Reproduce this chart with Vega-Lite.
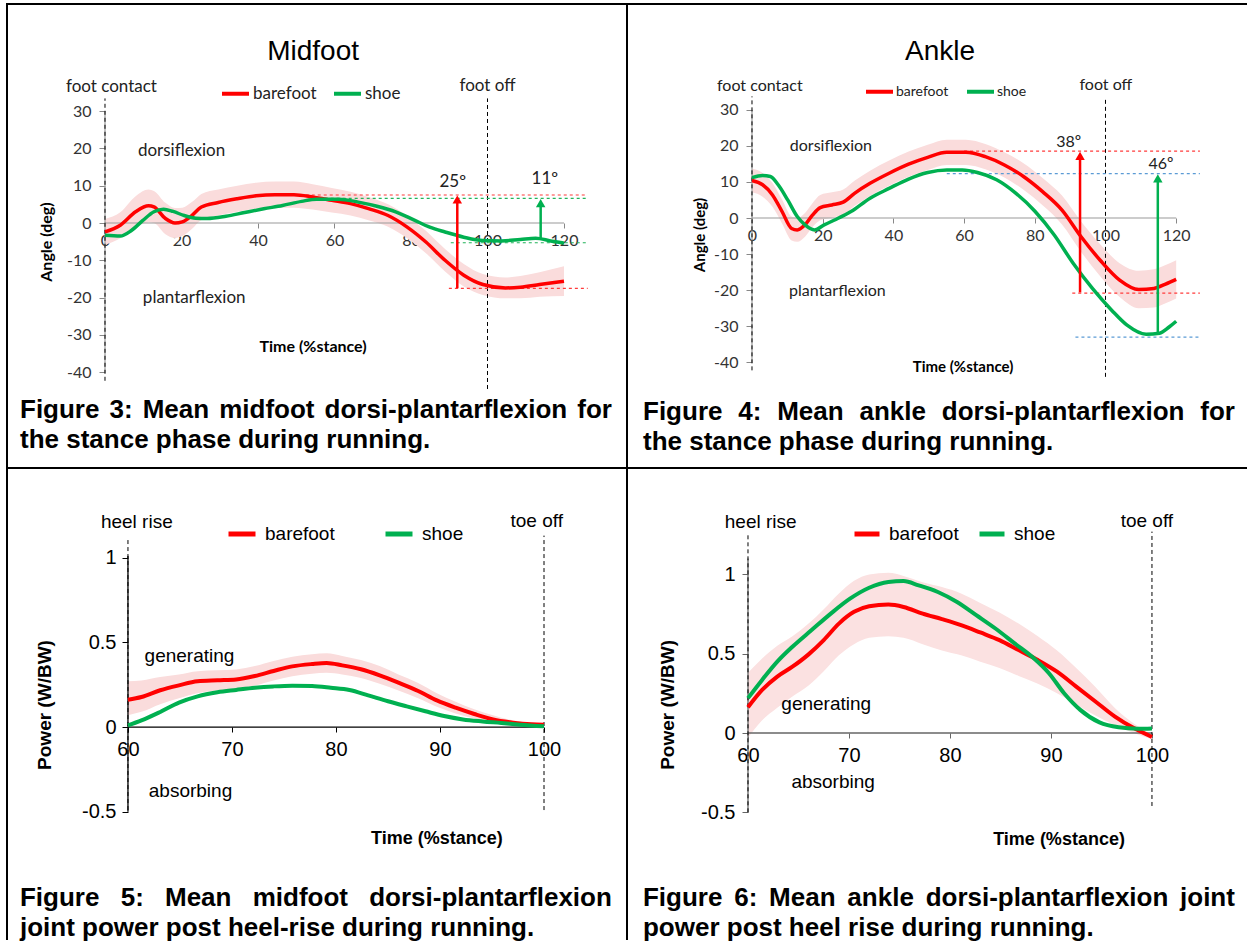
{
"$schema": "https://vega.github.io/schema/vega-lite/v6.json",
"background": "white",
"padding": {"left": 6, "top": 3, "right": 0, "bottom": 0},
"bounds": "flush",
"spacing": 0,
"columns": 2,
"config": {"view": {"stroke": "black", "strokeWidth": 2}},
"resolve": {"scale": {"color": "independent"}, "legend": {"color": "independent"}},
"datasets": {
 "tl_lines": [
  {"s":"barefoot","t":0,"v":-2.4},{"s":"barefoot","t":4,"v":-0.6},{"s":"barefoot","t":8,"v":3},{"s":"barefoot","t":11.4,"v":4.6},{"s":"barefoot","t":12.8,"v":4.3},{"s":"barefoot","t":15.8,"v":1.2},{"s":"barefoot","t":18.3,"v":0},{"s":"barefoot","t":20.2,"v":0.3},{"s":"barefoot","t":22.7,"v":2},{"s":"barefoot","t":25.2,"v":4.3},{"s":"barefoot","t":29.6,"v":5.5},{"s":"barefoot","t":34.6,"v":6.5},{"s":"barefoot","t":39.5,"v":7.3},{"s":"barefoot","t":44.4,"v":7.6},{"s":"barefoot","t":49.4,"v":7.6},{"s":"barefoot","t":54.3,"v":7},{"s":"barefoot","t":59.3,"v":6.1},{"s":"barefoot","t":64.2,"v":5.2},{"s":"barefoot","t":69.1,"v":3.8},{"s":"barefoot","t":74,"v":2},{"s":"barefoot","t":79,"v":-1.1},{"s":"barefoot","t":83.9,"v":-5.1},{"s":"barefoot","t":88.9,"v":-10},{"s":"barefoot","t":93.8,"v":-14},{"s":"barefoot","t":98.8,"v":-16.5},{"s":"barefoot","t":104.7,"v":-17.4},{"s":"barefoot","t":108.6,"v":-17.2},{"s":"barefoot","t":113.6,"v":-16.5},{"s":"barefoot","t":120,"v":-15.6},
  {"s":"shoe","t":0,"v":-3.3},{"s":"shoe","t":4,"v":-3.5},{"s":"shoe","t":6.9,"v":-2},{"s":"shoe","t":9.9,"v":0.7},{"s":"shoe","t":12.8,"v":3},{"s":"shoe","t":15.3,"v":3.7},{"s":"shoe","t":17.8,"v":3.1},{"s":"shoe","t":20.7,"v":2},{"s":"shoe","t":23.7,"v":1.3},{"s":"shoe","t":26.7,"v":1.2},{"s":"shoe","t":31.6,"v":1.8},{"s":"shoe","t":36.5,"v":2.8},{"s":"shoe","t":41.5,"v":3.8},{"s":"shoe","t":46.4,"v":4.7},{"s":"shoe","t":51.4,"v":5.8},{"s":"shoe","t":55.3,"v":6.4},{"s":"shoe","t":61.2,"v":6.4},{"s":"shoe","t":66.2,"v":5.6},{"s":"shoe","t":71.1,"v":4.5},{"s":"shoe","t":76,"v":3},{"s":"shoe","t":81,"v":0.7},{"s":"shoe","t":84.9,"v":-1.1},{"s":"shoe","t":88.9,"v":-2.4},{"s":"shoe","t":93.8,"v":-3.8},{"s":"shoe","t":98.8,"v":-4.7},{"s":"shoe","t":103.7,"v":-4.8},{"s":"shoe","t":108.6,"v":-4.4},{"s":"shoe","t":112.6,"v":-4.1},{"s":"shoe","t":116.5,"v":-4.8},{"s":"shoe","t":120,"v":-5.4}
 ],
 "tl_band": [
  {"t":0,"v":-5.9,"v2":1.1},{"t":4,"v":-4.1,"v2":2.9},{"t":8,"v":-1.2,"v2":7.2},{"t":11.4,"v":0.2,"v2":9},{"t":12.8,"v":0,"v2":8.6},{"t":15.8,"v":-3,"v2":5.4},{"t":18.3,"v":-4,"v2":4},{"t":20.2,"v":-3.5,"v2":4.1},{"t":22.7,"v":-1.6,"v2":5.6},{"t":25.2,"v":0.8,"v2":7.8},{"t":29.6,"v":2,"v2":9},{"t":34.6,"v":3,"v2":10},{"t":39.5,"v":3.8,"v2":10.8},{"t":44.4,"v":4.1,"v2":11.1},{"t":49.4,"v":4.1,"v2":11.1},{"t":54.3,"v":3.6,"v2":10.4},{"t":59.3,"v":2.8,"v2":9.4},{"t":64.2,"v":2,"v2":8.4},{"t":69.1,"v":0.7,"v2":6.9},{"t":74,"v":-1,"v2":5},{"t":79,"v":-4.1,"v2":1.9},{"t":83.9,"v":-8.1,"v2":-2.1},{"t":88.9,"v":-13,"v2":-7},{"t":93.8,"v":-17,"v2":-11},{"t":98.8,"v":-19.3,"v2":-13.7},{"t":104.7,"v":-20.2,"v2":-14.6},{"t":108.6,"v":-20.2,"v2":-14.2},{"t":113.6,"v":-19.8,"v2":-13.2},{"t":120,"v":-19.6,"v2":-11.6}
 ],
 "tl_axis": [{"t":0,"v":0,"t2":120,"v2":0},{"t":0,"v":-40,"t2":0,"v2":30}],
 "tl_events": [{"t":0,"v":-42.3,"t2":0,"v2":33.4},{"t":100,"v":-44.5,"t2":100,"v2":33.4}],
 "tl_refs": [{"s":"barefoot","t":41.5,"v":7.5,"t2":126.2,"v2":7.5},{"s":"barefoot","t":89.9,"v":-17.5,"t2":126.2,"v2":-17.5},{"s":"shoe","t":54.3,"v":6.6,"t2":126.2,"v2":6.6},{"s":"shoe","t":90.4,"v":-5.3,"t2":126.2,"v2":-5.3}],
 "tl_arrows": [{"s":"barefoot","t":92.1,"v":6.3,"v2":-17.5},{"s":"shoe","t":113.9,"v":5.3,"v2":-4}],
 "tl_text": [
  {"role":"title","t":54.4,"v":45.8,"label":"Midfoot"},
  {"role":"plain","t":-10.2,"v":36.5,"label":"foot contact"},
  {"role":"plain","t":8.6,"v":19.3,"label":"dorsiflexion"},
  {"role":"plain","t":9.9,"v":-20.1,"label":"plantarflexion"},
  {"role":"center","t":100,"v":36.6,"label":"foot off"},
  {"role":"center","t":90.9,"v":11,"label":"25º"},
  {"role":"center","t":115,"v":11.9,"label":"11º"},
  {"role":"bold","t":54.4,"v":-33.2,"label":"Time (%stance)"},
  {"role":"ylab","t":-15.2,"v":-5.1,"label":"Angle (deg)"},
  {"role":"caption","t":-22.22,"v":-50.1,"label":"Figure"},
  {"role":"caption","t":1.18,"v":-50.1,"label":"3:"},
  {"role":"caption","t":9.86,"v":-50.1,"label":"Mean"},
  {"role":"caption","t":29.86,"v":-50.1,"label":"midfoot"},
  {"role":"caption","t":57.39,"v":-50.1,"label":"dorsi-plantarflexion"},
  {"role":"caption","t":123.48,"v":-50.1,"label":"for"},
  {"role":"caption","t":-22.22,"v":-58.2,"label":"the stance phase during running."}
 ],
 "tr_lines": [
  {"s":"barefoot","t":0,"v":10.4},{"s":"barefoot","t":3,"v":9.2},{"s":"barefoot","t":5.8,"v":6.4},{"s":"barefoot","t":8.5,"v":1.8},{"s":"barefoot","t":11.2,"v":-2.9},{"s":"barefoot","t":12.8,"v":-3.3},{"s":"barefoot","t":15,"v":-1.9},{"s":"barefoot","t":17.1,"v":0.8},{"s":"barefoot","t":19.3,"v":2.9},{"s":"barefoot","t":22.6,"v":3.6},{"s":"barefoot","t":25.8,"v":4.4},{"s":"barefoot","t":29.1,"v":6.9},{"s":"barefoot","t":33.4,"v":9.6},{"s":"barefoot","t":38.8,"v":12.4},{"s":"barefoot","t":44.3,"v":14.9},{"s":"barefoot","t":49.7,"v":16.8},{"s":"barefoot","t":55.1,"v":18.2},{"s":"barefoot","t":60.5,"v":18.2},{"s":"barefoot","t":66,"v":17},{"s":"barefoot","t":71.4,"v":14.7},{"s":"barefoot","t":76.8,"v":11.5},{"s":"barefoot","t":82.2,"v":7.3},{"s":"barefoot","t":87.7,"v":2.2},{"s":"barefoot","t":93.1,"v":-5.2},{"s":"barefoot","t":98.5,"v":-11.7},{"s":"barefoot","t":104,"v":-17.2},{"s":"barefoot","t":109.4,"v":-19.8},{"s":"barefoot","t":113.7,"v":-19.5},{"s":"barefoot","t":117,"v":-18.3},{"s":"barefoot","t":120,"v":-17},
  {"s":"shoe","t":0,"v":11.2},{"s":"shoe","t":3,"v":11.8},{"s":"shoe","t":5.2,"v":11.5},{"s":"shoe","t":7.4,"v":9.2},{"s":"shoe","t":10.1,"v":5},{"s":"shoe","t":12.8,"v":0.4},{"s":"shoe","t":15,"v":-1.9},{"s":"shoe","t":17.7,"v":-3.3},{"s":"shoe","t":20.4,"v":-1.9},{"s":"shoe","t":23.7,"v":-0.4},{"s":"shoe","t":28,"v":1.8},{"s":"shoe","t":33.4,"v":5.5},{"s":"shoe","t":38.8,"v":8.2},{"s":"shoe","t":44.3,"v":10.8},{"s":"shoe","t":49.7,"v":12.6},{"s":"shoe","t":55.1,"v":13.3},{"s":"shoe","t":59.5,"v":13.3},{"s":"shoe","t":63.8,"v":12.6},{"s":"shoe","t":69.2,"v":10.6},{"s":"shoe","t":74.6,"v":6.9},{"s":"shoe","t":80.1,"v":1.8},{"s":"shoe","t":85.5,"v":-4.7},{"s":"shoe","t":90.9,"v":-12.6},{"s":"shoe","t":96.3,"v":-19.5},{"s":"shoe","t":101.8,"v":-25.6},{"s":"shoe","t":106.1,"v":-29.7},{"s":"shoe","t":111.5,"v":-32.2},{"s":"shoe","t":115.3,"v":-31.9},{"s":"shoe","t":118,"v":-30.2},{"s":"shoe","t":120,"v":-28.6}
 ],
 "tr_band": [
  {"t":0,"v":7.1,"v2":13.7},{"t":3,"v":5.9,"v2":12.5},{"t":5.8,"v":3.1,"v2":9.7},{"t":8.5,"v":-1.5,"v2":5.1},{"t":11.2,"v":-6.2,"v2":0.4},{"t":12.8,"v":-6.6,"v2":0},{"t":15,"v":-5.2,"v2":1.4},{"t":17.1,"v":-2.5,"v2":4.1},{"t":19.3,"v":-0.6,"v2":6.4},{"t":22.6,"v":0.1,"v2":7.1},{"t":25.8,"v":0.9,"v2":7.9},{"t":29.1,"v":3.4,"v2":10.4},{"t":33.4,"v":6.1,"v2":13.1},{"t":38.8,"v":8.9,"v2":15.9},{"t":44.3,"v":11.4,"v2":18.4},{"t":49.7,"v":13.3,"v2":20.3},{"t":55.1,"v":14.7,"v2":21.7},{"t":60.5,"v":14.7,"v2":21.7},{"t":66,"v":13.5,"v2":20.5},{"t":71.4,"v":11.2,"v2":18.2},{"t":76.8,"v":7.8,"v2":15.2},{"t":82.2,"v":3.5,"v2":11.1},{"t":87.7,"v":-1.8,"v2":6.2},{"t":93.1,"v":-9.4,"v2":-1},{"t":98.5,"v":-16.1,"v2":-7.3},{"t":104,"v":-21.9,"v2":-12.5},{"t":109.4,"v":-25,"v2":-14.6},{"t":113.7,"v":-24.8,"v2":-14.2},{"t":117,"v":-23.6,"v2":-13},{"t":120,"v":-22.3,"v2":-11.7}
 ],
 "tr_axis": [{"t":0,"v":0,"t2":120,"v2":0},{"t":0,"v":-40,"t2":0,"v2":30}],
 "tr_events": [{"t":0,"v":-42.2,"t2":0,"v2":33.7},{"t":100,"v":-44,"t2":100,"v2":33.2}],
 "tr_refs": [{"s":"barefoot","t":60,"v":18.5,"t2":126.7,"v2":18.5},{"s":"barefoot","t":90.6,"v":-20.8,"t2":126.7,"v2":-20.8},{"s":"shoe","t":55.1,"v":12.3,"t2":126.7,"v2":12.3},{"s":"shoe","t":91.5,"v":-33,"t2":126.7,"v2":-33}],
 "tr_arrows": [{"s":"barefoot","t":92.8,"v":17.2,"v2":-20.6},{"s":"shoe","t":114.8,"v":11,"v2":-32}],
 "tr_text": [
  {"role":"title","t":53.2,"v":46,"label":"Ankle"},
  {"role":"plain","t":-9.9,"v":36.6,"label":"foot contact"},
  {"role":"plain","t":10.7,"v":19.9,"label":"dorsiflexion"},
  {"role":"plain","t":10.5,"v":-20.2,"label":"plantarflexion"},
  {"role":"center","t":100.1,"v":36.8,"label":"foot off"},
  {"role":"center","t":89.6,"v":21,"label":"38º"},
  {"role":"center","t":115.7,"v":14.9,"label":"46º"},
  {"role":"bold","t":59.7,"v":-41.3,"label":"Time (%stance)"},
  {"role":"ylab","t":-14.7,"v":-4.7,"label":"Angle (deg)"},
  {"role":"caption","t":-30.83,"v":-53.7,"label":"Figure"},
  {"role":"caption","t":-3.88,"v":-53.7,"label":"4:"},
  {"role":"caption","t":7.13,"v":-53.7,"label":"Mean"},
  {"role":"caption","t":30.41,"v":-53.7,"label":"ankle"},
  {"role":"caption","t":53.69,"v":-53.7,"label":"dorsi-plantarflexion"},
  {"role":"caption","t":126.82,"v":-53.7,"label":"for"},
  {"role":"caption","t":-30.83,"v":-62,"label":"the stance phase during running."}
 ],
 "bl_lines": [
  {"s":"barefoot","t":60,"v":0.161},{"s":"barefoot","t":61.3,"v":0.177},{"s":"barefoot","t":63.1,"v":0.217},{"s":"barefoot","t":64.9,"v":0.246},{"s":"barefoot","t":66.7,"v":0.27},{"s":"barefoot","t":68.6,"v":0.276},{"s":"barefoot","t":70.4,"v":0.281},{"s":"barefoot","t":72.2,"v":0.301},{"s":"barefoot","t":74,"v":0.331},{"s":"barefoot","t":75.8,"v":0.358},{"s":"barefoot","t":77.7,"v":0.372},{"s":"barefoot","t":79.1,"v":0.378},{"s":"barefoot","t":80.6,"v":0.364},{"s":"barefoot","t":82.4,"v":0.341},{"s":"barefoot","t":84.2,"v":0.305},{"s":"barefoot","t":86,"v":0.262},{"s":"barefoot","t":87.9,"v":0.213},{"s":"barefoot","t":89.7,"v":0.157},{"s":"barefoot","t":91.5,"v":0.114},{"s":"barefoot","t":93.3,"v":0.077},{"s":"barefoot","t":95.1,"v":0.045},{"s":"barefoot","t":97,"v":0.026},{"s":"barefoot","t":98.8,"v":0.016},{"s":"barefoot","t":100,"v":0.014},
  {"s":"shoe","t":60,"v":0.01},{"s":"shoe","t":61.3,"v":0.039},{"s":"shoe","t":63.1,"v":0.089},{"s":"shoe","t":64.9,"v":0.144},{"s":"shoe","t":66.7,"v":0.181},{"s":"shoe","t":68.6,"v":0.205},{"s":"shoe","t":70.4,"v":0.219},{"s":"shoe","t":72.2,"v":0.232},{"s":"shoe","t":74,"v":0.24},{"s":"shoe","t":75.8,"v":0.244},{"s":"shoe","t":77.7,"v":0.242},{"s":"shoe","t":79.5,"v":0.232},{"s":"shoe","t":81.3,"v":0.219},{"s":"shoe","t":83.1,"v":0.187},{"s":"shoe","t":85,"v":0.152},{"s":"shoe","t":86.8,"v":0.122},{"s":"shoe","t":88.6,"v":0.093},{"s":"shoe","t":90.4,"v":0.065},{"s":"shoe","t":92.2,"v":0.045},{"s":"shoe","t":94.1,"v":0.033},{"s":"shoe","t":95.9,"v":0.024},{"s":"shoe","t":97.7,"v":0.014},{"s":"shoe","t":100,"v":0.004}
 ],
 "bl_band": [
  {"t":60,"v":0.07,"v2":0.27},{"t":61.3,"v":0.09,"v2":0.275},{"t":63.1,"v":0.135,"v2":0.295},{"t":64.9,"v":0.17,"v2":0.31},{"t":66.7,"v":0.2,"v2":0.33},{"t":68.6,"v":0.215,"v2":0.335},{"t":70.4,"v":0.225,"v2":0.34},{"t":72.2,"v":0.245,"v2":0.36},{"t":74,"v":0.275,"v2":0.39},{"t":75.8,"v":0.3,"v2":0.415},{"t":77.7,"v":0.315,"v2":0.43},{"t":79.1,"v":0.32,"v2":0.435},{"t":80.6,"v":0.31,"v2":0.42},{"t":82.4,"v":0.29,"v2":0.395},{"t":84.2,"v":0.255,"v2":0.36},{"t":86,"v":0.215,"v2":0.31},{"t":87.9,"v":0.17,"v2":0.26},{"t":89.7,"v":0.12,"v2":0.2},{"t":91.5,"v":0.08,"v2":0.15},{"t":93.3,"v":0.05,"v2":0.105},{"t":95.1,"v":0.025,"v2":0.07},{"t":97,"v":0.012,"v2":0.04},{"t":98.8,"v":0.008,"v2":0.024},{"t":100,"v":0.01,"v2":0.018}
 ],
 "bl_axis": [{"t":60,"v":0,"t2":100,"v2":0},{"t":60,"v":-0.5,"t2":60,"v2":1.01}],
 "bl_events": [{"t":60,"v":-0.49,"t2":60,"v2":1.12},{"t":100,"v":-0.49,"t2":100,"v2":1.13}],
 "bl_text": [
  {"role":"plain","t":57.4,"v":1.21,"label":"heel rise"},
  {"role":"plain","t":61.6,"v":0.419,"label":"generating"},
  {"role":"plain","t":62,"v":-0.378,"label":"absorbing"},
  {"role":"center","t":99.3,"v":1.216,"label":"toe off"},
  {"role":"bold","t":89.7,"v":-0.661,"label":"Time (%stance)"},
  {"role":"ylab","t":52,"v":0.13,"label":"Power (W/BW)"},
  {"role":"caption","t":49.615,"v":-1.009,"label":"Figure"},
  {"role":"caption","t":59.3,"v":-1.009,"label":"5:"},
  {"role":"caption","t":63.56,"v":-1.009,"label":"Mean"},
  {"role":"caption","t":71.99,"v":-1.009,"label":"midfoot"},
  {"role":"caption","t":83.19,"v":-1.009,"label":"dorsi-plantarflexion"},
  {"role":"caption","t":49.615,"v":-1.187,"label":"joint power post heel-rise during running."}
 ],
 "br_lines": [
  {"s":"barefoot","t":60,"v":0.163},{"s":"barefoot","t":61.4,"v":0.272},{"s":"barefoot","t":62.9,"v":0.356},{"s":"barefoot","t":64.4,"v":0.418},{"s":"barefoot","t":66,"v":0.496},{"s":"barefoot","t":67.5,"v":0.586},{"s":"barefoot","t":69,"v":0.69},{"s":"barefoot","t":70.5,"v":0.764},{"s":"barefoot","t":72,"v":0.799},{"s":"barefoot","t":73.9,"v":0.81},{"s":"barefoot","t":75.4,"v":0.795},{"s":"barefoot","t":77.3,"v":0.753},{"s":"barefoot","t":79.2,"v":0.718},{"s":"barefoot","t":81.1,"v":0.68},{"s":"barefoot","t":83,"v":0.634},{"s":"barefoot","t":84.9,"v":0.586},{"s":"barefoot","t":86.8,"v":0.523},{"s":"barefoot","t":88.7,"v":0.46},{"s":"barefoot","t":90.6,"v":0.387},{"s":"barefoot","t":92.5,"v":0.293},{"s":"barefoot","t":94.4,"v":0.199},{"s":"barefoot","t":96.3,"v":0.105},{"s":"barefoot","t":98.2,"v":0.031},{"s":"barefoot","t":100,"v":-0.025},
  {"s":"shoe","t":60,"v":0.22},{"s":"shoe","t":61.4,"v":0.335},{"s":"shoe","t":62.9,"v":0.45},{"s":"shoe","t":64.4,"v":0.544},{"s":"shoe","t":66.3,"v":0.649},{"s":"shoe","t":68.2,"v":0.753},{"s":"shoe","t":70.1,"v":0.847},{"s":"shoe","t":72,"v":0.916},{"s":"shoe","t":73.9,"v":0.952},{"s":"shoe","t":75.4,"v":0.958},{"s":"shoe","t":76.9,"v":0.931},{"s":"shoe","t":78.8,"v":0.889},{"s":"shoe","t":80.7,"v":0.826},{"s":"shoe","t":82.6,"v":0.743},{"s":"shoe","t":84.5,"v":0.659},{"s":"shoe","t":86.4,"v":0.565},{"s":"shoe","t":88.3,"v":0.471},{"s":"shoe","t":89.8,"v":0.377},{"s":"shoe","t":91.3,"v":0.251},{"s":"shoe","t":92.9,"v":0.146},{"s":"shoe","t":94.8,"v":0.067},{"s":"shoe","t":96.7,"v":0.036},{"s":"shoe","t":98.6,"v":0.027},{"s":"shoe","t":100,"v":0.029}
 ],
 "br_band": [
  {"t":60,"v":-0.03,"v2":0.38},{"t":61.4,"v":0.08,"v2":0.47},{"t":62.9,"v":0.16,"v2":0.55},{"t":64.4,"v":0.23,"v2":0.61},{"t":66,"v":0.3,"v2":0.69},{"t":67.5,"v":0.39,"v2":0.78},{"t":69,"v":0.49,"v2":0.88},{"t":70.5,"v":0.56,"v2":0.96},{"t":72,"v":0.6,"v2":1.0},{"t":73.9,"v":0.61,"v2":1.01},{"t":75.4,"v":0.6,"v2":0.99},{"t":77.3,"v":0.56,"v2":0.95},{"t":79.2,"v":0.52,"v2":0.92},{"t":81.1,"v":0.49,"v2":0.88},{"t":83,"v":0.45,"v2":0.82},{"t":84.9,"v":0.41,"v2":0.76},{"t":86.8,"v":0.36,"v2":0.69},{"t":88.7,"v":0.31,"v2":0.61},{"t":90.6,"v":0.25,"v2":0.52},{"t":92.5,"v":0.18,"v2":0.41},{"t":94.4,"v":0.11,"v2":0.29},{"t":96.3,"v":0.05,"v2":0.16},{"t":98.2,"v":0.0,"v2":0.06},{"t":100,"v":-0.04,"v2":-0.01}
 ],
 "br_axis": [{"t":60,"v":0,"t2":100,"v2":0},{"t":60,"v":-0.5,"t2":60,"v2":1.1}],
 "br_events": [{"t":60,"v":-0.5,"t2":60,"v2":1.26},{"t":100,"v":-0.46,"t2":100,"v2":1.27}],
 "br_text": [
  {"role":"plain","t":57.7,"v":1.33,"label":"heel rise"},
  {"role":"plain","t":63.3,"v":0.183,"label":"generating"},
  {"role":"plain","t":64.3,"v":-0.309,"label":"absorbing"},
  {"role":"center","t":99.5,"v":1.337,"label":"toe off"},
  {"role":"bold","t":90.8,"v":-0.675,"label":"Time (%stance)"},
  {"role":"ylab","t":52.1,"v":0.177,"label":"Power (W/BW)"},
  {"role":"caption","t":49.6,"v":-1.04,"label":"Figure"},
  {"role":"caption","t":58.64,"v":-1.04,"label":"6:"},
  {"role":"caption","t":62.09,"v":-1.04,"label":"Mean"},
  {"role":"caption","t":69.84,"v":-1.04,"label":"ankle"},
  {"role":"caption","t":77.59,"v":-1.04,"label":"dorsi-plantarflexion"},
  {"role":"caption","t":102.78,"v":-1.04,"label":"joint"},
  {"role":"caption","t":49.6,"v":-1.23,"label":"power post heel rise during running."}
 ]
},
"concat": [
  {
   "width": 620, "height": 464,
   "view": {"stroke": "black", "strokeWidth": 2},
   "encoding": {
    "x": {"field": "t", "type": "quantitative", "scale": {"domain": [-25.62, 136.47], "nice": false, "zero": false},
          "axis": {"values": [0,20,40,60,80,100,120], "offset": -245, "domain": false, "grid": false, "tickSize": 5, "tickColor": "#888888", "labelFont": "Lato", "labelFontSize": 16, "labelColor": "#333333", "labelPadding": 4, "labelOverlap": false, "labelFlush": false, "labelBound": false, "title": null, "labelExpr": "'' + datum.value"}},
    "y": {"field": "v", "type": "quantitative", "scale": {"domain": [-65.68, 58.71], "nice": false, "zero": false},
          "axis": {"values": [-40,-30,-20,-10,0,10,20,30], "offset": -98, "domain": false, "grid": false, "tickSize": 6, "tickColor": "#888888", "labelFont": "Lato", "labelFontSize": 16, "labelColor": "#333333", "labelPadding": 8, "labelOverlap": false, "labelFlush": false, "labelBound": false, "title": null, "labelExpr": "'' + datum.value"}}
   },
   "layer": [
    {"data": {"name": "tl_band"}, "mark": {"type": "area", "color": "#fadcdc", "interpolate": "monotone"}, "encoding": {"y2": {"field": "v2"}}},
    {"data": {"name": "tl_axis"}, "mark": {"type": "rule", "color": "#999999", "strokeWidth": 1.2}, "encoding": {"x2": {"field": "t2"}, "y2": {"field": "v2"}}},
    {"data": {"name": "tl_events"}, "mark": {"type": "rule", "color": "black", "strokeWidth": 1, "strokeDash": [4, 3]}, "encoding": {"x2": {"field": "t2"}, "y2": {"field": "v2"}}},
    {"data": {"name": "tl_refs"}, "transform": [{"filter": "datum.s == 'barefoot'"}], "mark": {"type": "rule", "color": "#ff3b3b", "strokeWidth": 1.2, "strokeDash": [3, 3]}, "encoding": {"x2": {"field": "t2"}, "y2": {"field": "v2"}}},
    {"data": {"name": "tl_refs"}, "transform": [{"filter": "datum.s == 'shoe'"}], "mark": {"type": "rule", "color": "#22b35a", "strokeWidth": 1.2, "strokeDash": [3, 3]}, "encoding": {"x2": {"field": "t2"}, "y2": {"field": "v2"}}},
    {"data": {"name": "tl_lines"}, "mark": {"type": "line", "strokeWidth": 3.5, "interpolate": "monotone"},
     "encoding": {"color": {"field": "s", "type": "nominal", "scale": {"domain": ["barefoot", "shoe"], "range": ["#ff0000", "#00b050"]},
       "legend": {"orient": "none", "legendX": 213, "legendY": 74, "direction": "horizontal", "title": null, "symbolType": "stroke", "symbolSize": 729, "symbolStrokeWidth": 4, "labelFont": "Lato", "labelFontSize": 17, "labelColor": "#222222", "labelOffset": 2, "columnPadding": 9, "padding": 0}}}},
    {"data": {"name": "tl_arrows"}, "transform": [{"filter": "datum.s == 'barefoot'"}], "mark": {"type": "rule", "color": "#ff0000", "strokeWidth": 2.5}, "encoding": {"y2": {"field": "v2"}}},
    {"data": {"name": "tl_arrows"}, "transform": [{"filter": "datum.s == 'shoe'"}], "mark": {"type": "rule", "color": "#00b050", "strokeWidth": 2.5}, "encoding": {"y2": {"field": "v2"}}},
    {"data": {"name": "tl_arrows"}, "transform": [{"filter": "datum.s == 'barefoot'"}], "mark": {"type": "point", "shape": "triangle-up", "size": 90, "filled": true, "opacity": 1, "color": "#ff0000"}},
    {"data": {"name": "tl_arrows"}, "transform": [{"filter": "datum.s == 'shoe'"}], "mark": {"type": "point", "shape": "triangle-up", "size": 90, "filled": true, "opacity": 1, "color": "#00b050"}},
    {"data": {"name": "tl_text"}, "transform": [{"filter": "datum.role == 'title'"}], "mark": {"type": "text", "font": "Liberation Sans", "fontSize": 28, "align": "center", "baseline": "middle", "color": "black"}, "encoding": {"text": {"field": "label"}}},
    {"data": {"name": "tl_text"}, "transform": [{"filter": "datum.role == 'plain'"}], "mark": {"type": "text", "font": "Lato", "fontSize": 17, "align": "left", "baseline": "middle", "color": "#222222"}, "encoding": {"text": {"field": "label"}}},
    {"data": {"name": "tl_text"}, "transform": [{"filter": "datum.role == 'center'"}], "mark": {"type": "text", "font": "Lato", "fontSize": 17, "align": "center", "baseline": "middle", "color": "#222222"}, "encoding": {"text": {"field": "label"}}},
    {"data": {"name": "tl_text"}, "transform": [{"filter": "datum.role == 'bold'"}], "mark": {"type": "text", "font": "Lato", "fontSize": 16, "fontWeight": "bold", "align": "center", "baseline": "middle", "color": "black"}, "encoding": {"text": {"field": "label"}}},
    {"data": {"name": "tl_text"}, "transform": [{"filter": "datum.role == 'ylab'"}], "mark": {"type": "text", "font": "Lato", "fontSize": 16, "fontWeight": "bold", "angle": 270, "align": "center", "baseline": "middle", "color": "black"}, "encoding": {"text": {"field": "label"}}},
    {"data": {"name": "tl_text"}, "transform": [{"filter": "datum.role == 'caption'"}], "mark": {"type": "text", "font": "Liberation Sans", "fontSize": 26, "fontWeight": "bold", "align": "left", "baseline": "middle", "color": "black"}, "encoding": {"text": {"field": "label"}}}
   ]
  },
  {
   "width": 620, "height": 464,
   "view": {"stroke": "black", "strokeWidth": 2, "strokeDash": [620, 464, 1084, 0]},
   "encoding": {
    "x": {"field": "t", "type": "quantitative", "scale": {"domain": [-35.36, 140.03], "nice": false, "zero": false},
          "axis": {"values": [0,20,40,60,80,100,120], "offset": -250, "domain": false, "grid": false, "tickSize": 5, "tickColor": "#888888", "labelFont": "Lato", "labelFontSize": 16, "labelColor": "#333333", "labelPadding": 4, "labelOverlap": false, "labelFlush": false, "labelBound": false, "title": null, "labelExpr": "'' + datum.value"}},
    "y": {"field": "v", "type": "quantitative", "scale": {"domain": [-69.25, 59.28], "nice": false, "zero": false},
          "axis": {"values": [-40,-30,-20,-10,0,10,20,30], "offset": -125, "domain": false, "grid": false, "tickSize": 6, "tickColor": "#888888", "labelFont": "Lato", "labelFontSize": 16, "labelColor": "#333333", "labelPadding": 8, "labelOverlap": false, "labelFlush": false, "labelBound": false, "title": null, "labelExpr": "'' + datum.value"}}
   },
   "layer": [
    {"data": {"name": "tr_band"}, "mark": {"type": "area", "color": "#fadcdc", "interpolate": "monotone"}, "encoding": {"y2": {"field": "v2"}}},
    {"data": {"name": "tr_axis"}, "mark": {"type": "rule", "color": "#999999", "strokeWidth": 1.2}, "encoding": {"x2": {"field": "t2"}, "y2": {"field": "v2"}}},
    {"data": {"name": "tr_events"}, "mark": {"type": "rule", "color": "black", "strokeWidth": 1, "strokeDash": [4, 3]}, "encoding": {"x2": {"field": "t2"}, "y2": {"field": "v2"}}},
    {"data": {"name": "tr_refs"}, "transform": [{"filter": "datum.s == 'barefoot'"}], "mark": {"type": "rule", "color": "#ff3b3b", "strokeWidth": 1.2, "strokeDash": [3, 3]}, "encoding": {"x2": {"field": "t2"}, "y2": {"field": "v2"}}},
    {"data": {"name": "tr_refs"}, "transform": [{"filter": "datum.s == 'shoe'"}], "mark": {"type": "rule", "color": "#5b9bd5", "strokeWidth": 1.2, "strokeDash": [3, 3]}, "encoding": {"x2": {"field": "t2"}, "y2": {"field": "v2"}}},
    {"data": {"name": "tr_lines"}, "mark": {"type": "line", "strokeWidth": 3.5, "interpolate": "monotone"},
     "encoding": {"color": {"field": "s", "type": "nominal", "scale": {"domain": ["barefoot", "shoe"], "range": ["#ff0000", "#00b050"]},
       "legend": {"orient": "none", "legendX": 237, "legendY": 72, "direction": "horizontal", "title": null, "symbolType": "stroke", "symbolSize": 729, "symbolStrokeWidth": 4, "labelFont": "Lato", "labelFontSize": 14, "labelColor": "#222222", "labelOffset": 1, "columnPadding": 10, "padding": 0}}}},
    {"data": {"name": "tr_arrows"}, "transform": [{"filter": "datum.s == 'barefoot'"}], "mark": {"type": "rule", "color": "#ff0000", "strokeWidth": 2.5}, "encoding": {"y2": {"field": "v2"}}},
    {"data": {"name": "tr_arrows"}, "transform": [{"filter": "datum.s == 'shoe'"}], "mark": {"type": "rule", "color": "#00b050", "strokeWidth": 2.5}, "encoding": {"y2": {"field": "v2"}}},
    {"data": {"name": "tr_arrows"}, "transform": [{"filter": "datum.s == 'barefoot'"}], "mark": {"type": "point", "shape": "triangle-up", "size": 90, "filled": true, "opacity": 1, "color": "#ff0000"}},
    {"data": {"name": "tr_arrows"}, "transform": [{"filter": "datum.s == 'shoe'"}], "mark": {"type": "point", "shape": "triangle-up", "size": 90, "filled": true, "opacity": 1, "color": "#00b050"}},
    {"data": {"name": "tr_text"}, "transform": [{"filter": "datum.role == 'title'"}], "mark": {"type": "text", "font": "Liberation Sans", "fontSize": 28, "align": "center", "baseline": "middle", "color": "black"}, "encoding": {"text": {"field": "label"}}},
    {"data": {"name": "tr_text"}, "transform": [{"filter": "datum.role == 'plain'"}], "mark": {"type": "text", "font": "Lato", "fontSize": 16, "align": "left", "baseline": "middle", "color": "#222222"}, "encoding": {"text": {"field": "label"}}},
    {"data": {"name": "tr_text"}, "transform": [{"filter": "datum.role == 'center'"}], "mark": {"type": "text", "font": "Lato", "fontSize": 16, "align": "center", "baseline": "middle", "color": "#222222"}, "encoding": {"text": {"field": "label"}}},
    {"data": {"name": "tr_text"}, "transform": [{"filter": "datum.role == 'bold'"}], "mark": {"type": "text", "font": "Lato", "fontSize": 15, "fontWeight": "bold", "align": "center", "baseline": "middle", "color": "black"}, "encoding": {"text": {"field": "label"}}},
    {"data": {"name": "tr_text"}, "transform": [{"filter": "datum.role == 'ylab'"}], "mark": {"type": "text", "font": "Lato", "fontSize": 15, "fontWeight": "bold", "angle": 270, "align": "center", "baseline": "middle", "color": "black"}, "encoding": {"text": {"field": "label"}}},
    {"data": {"name": "tr_text"}, "transform": [{"filter": "datum.role == 'caption'"}], "mark": {"type": "text", "font": "Liberation Sans", "fontSize": 26, "fontWeight": "bold", "align": "left", "baseline": "middle", "color": "black"}, "encoding": {"text": {"field": "label"}}}
   ]
  },
  {
   "width": 620, "height": 472,
   "view": {"stroke": "black", "strokeWidth": 2, "strokeDash": [1092, 620, 472, 0]},
   "encoding": {
    "x": {"field": "t", "type": "quantitative", "scale": {"domain": [48.37, 107.98], "nice": false, "zero": false},
          "axis": {"values": [60,70,80,90,100], "offset": -213, "domain": false, "grid": false, "tickSize": 5, "tickColor": "black", "labelFont": "Liberation Sans", "labelFontSize": 20, "labelColor": "black", "labelPadding": 7, "labelOverlap": false, "labelFlush": false, "labelBound": false, "title": null, "labelExpr": "'' + datum.value"}},
    "y": {"field": "v", "type": "quantitative", "scale": {"domain": [-1.257, 1.529], "nice": false, "zero": false},
          "axis": {"values": [-0.5,0,0.5,1], "offset": -121, "domain": false, "grid": false, "tickSize": 6, "tickColor": "black", "labelFont": "Liberation Sans", "labelFontSize": 20, "labelColor": "black", "labelPadding": 6, "labelOverlap": false, "labelFlush": false, "labelBound": false, "title": null, "labelExpr": "'' + datum.value"}}
   },
   "layer": [
    {"data": {"name": "bl_band"}, "mark": {"type": "area", "color": "#fadcdc", "interpolate": "monotone"}, "encoding": {"y2": {"field": "v2"}}},
    {"data": {"name": "bl_axis"}, "mark": {"type": "rule", "color": "black", "strokeWidth": 1.3}, "encoding": {"x2": {"field": "t2"}, "y2": {"field": "v2"}}},
    {"data": {"name": "bl_events"}, "mark": {"type": "rule", "color": "black", "strokeWidth": 1, "strokeDash": [4, 3]}, "encoding": {"x2": {"field": "t2"}, "y2": {"field": "v2"}}},
    {"data": {"name": "bl_lines"}, "mark": {"type": "line", "strokeWidth": 4, "interpolate": "monotone"},
     "encoding": {"color": {"field": "s", "type": "nominal", "scale": {"domain": ["barefoot", "shoe"], "range": ["#ff0000", "#00b050"]},
       "legend": {"orient": "none", "legendX": 219, "legendY": 50, "direction": "horizontal", "title": null, "symbolType": "stroke", "symbolSize": 729, "symbolStrokeWidth": 5, "labelFont": "Liberation Sans", "labelFontSize": 19, "labelColor": "black", "labelOffset": 7, "columnPadding": 40, "padding": 0}}}},
    {"data": {"name": "bl_text"}, "transform": [{"filter": "datum.role == 'plain'"}], "mark": {"type": "text", "font": "Liberation Sans", "fontSize": 19, "align": "left", "baseline": "middle", "color": "black"}, "encoding": {"text": {"field": "label"}}},
    {"data": {"name": "bl_text"}, "transform": [{"filter": "datum.role == 'center'"}], "mark": {"type": "text", "font": "Liberation Sans", "fontSize": 19, "align": "center", "baseline": "middle", "color": "black"}, "encoding": {"text": {"field": "label"}}},
    {"data": {"name": "bl_text"}, "transform": [{"filter": "datum.role == 'bold'"}], "mark": {"type": "text", "font": "Liberation Sans", "fontSize": 18, "fontWeight": "bold", "align": "center", "baseline": "middle", "color": "black"}, "encoding": {"text": {"field": "label"}}},
    {"data": {"name": "bl_text"}, "transform": [{"filter": "datum.role == 'ylab'"}], "mark": {"type": "text", "font": "Liberation Sans", "fontSize": 19, "fontWeight": "bold", "angle": 270, "align": "center", "baseline": "middle", "color": "black"}, "encoding": {"text": {"field": "label"}}},
    {"data": {"name": "bl_text"}, "transform": [{"filter": "datum.role == 'caption'"}], "mark": {"type": "text", "font": "Liberation Sans", "fontSize": 26, "fontWeight": "bold", "align": "left", "baseline": "middle", "color": "black"}, "encoding": {"text": {"field": "label"}}}
   ]
  },
  {
   "width": 620, "height": 472,
   "view": {"stroke": "black", "strokeWidth": 2, "strokeDash": [620, 1092, 472, 0]},
   "encoding": {
    "x": {"field": "t", "type": "quantitative", "scale": {"domain": [48.02, 109.41], "nice": false, "zero": false},
          "axis": {"values": [60,70,80,90,100], "offset": -207, "domain": false, "grid": false, "tickSize": 5, "tickColor": "#666666", "labelFont": "Liberation Sans", "labelFontSize": 20, "labelColor": "black", "labelPadding": 7, "labelOverlap": false, "labelFlush": false, "labelBound": false, "title": null, "labelExpr": "'' + datum.value"}},
    "y": {"field": "v", "type": "quantitative", "scale": {"domain": [-1.305, 1.671], "nice": false, "zero": false},
          "axis": {"values": [-0.5,0,0.5,1], "offset": -121, "domain": false, "grid": false, "tickSize": 6, "tickColor": "#666666", "labelFont": "Liberation Sans", "labelFontSize": 20, "labelColor": "black", "labelPadding": 7, "labelOverlap": false, "labelFlush": false, "labelBound": false, "title": null, "labelExpr": "'' + datum.value"}}
   },
   "layer": [
    {"data": {"name": "br_band"}, "mark": {"type": "area", "color": "#fbe1e1", "interpolate": "monotone"}, "encoding": {"y2": {"field": "v2"}}},
    {"data": {"name": "br_axis"}, "mark": {"type": "rule", "color": "#666666", "strokeWidth": 1.3}, "encoding": {"x2": {"field": "t2"}, "y2": {"field": "v2"}}},
    {"data": {"name": "br_events"}, "mark": {"type": "rule", "color": "black", "strokeWidth": 1, "strokeDash": [4, 3]}, "encoding": {"x2": {"field": "t2"}, "y2": {"field": "v2"}}},
    {"data": {"name": "br_lines"}, "mark": {"type": "line", "strokeWidth": 4, "interpolate": "monotone"},
     "encoding": {"color": {"field": "s", "type": "nominal", "scale": {"domain": ["barefoot", "shoe"], "range": ["#ff0000", "#00b050"]},
       "legend": {"orient": "none", "legendX": 225, "legendY": 51, "direction": "horizontal", "title": null, "symbolType": "stroke", "symbolSize": 625, "symbolStrokeWidth": 5, "labelFont": "Liberation Sans", "labelFontSize": 19, "labelColor": "black", "labelOffset": 7, "columnPadding": 10, "padding": 0}}}},
    {"data": {"name": "br_text"}, "transform": [{"filter": "datum.role == 'plain'"}], "mark": {"type": "text", "font": "Liberation Sans", "fontSize": 19, "align": "left", "baseline": "middle", "color": "black"}, "encoding": {"text": {"field": "label"}}},
    {"data": {"name": "br_text"}, "transform": [{"filter": "datum.role == 'center'"}], "mark": {"type": "text", "font": "Liberation Sans", "fontSize": 19, "align": "center", "baseline": "middle", "color": "black"}, "encoding": {"text": {"field": "label"}}},
    {"data": {"name": "br_text"}, "transform": [{"filter": "datum.role == 'bold'"}], "mark": {"type": "text", "font": "Liberation Sans", "fontSize": 18, "fontWeight": "bold", "align": "center", "baseline": "middle", "color": "black"}, "encoding": {"text": {"field": "label"}}},
    {"data": {"name": "br_text"}, "transform": [{"filter": "datum.role == 'ylab'"}], "mark": {"type": "text", "font": "Liberation Sans", "fontSize": 19, "fontWeight": "bold", "angle": 270, "align": "center", "baseline": "middle", "color": "black"}, "encoding": {"text": {"field": "label"}}},
    {"data": {"name": "br_text"}, "transform": [{"filter": "datum.role == 'caption'"}], "mark": {"type": "text", "font": "Liberation Sans", "fontSize": 26, "fontWeight": "bold", "align": "left", "baseline": "middle", "color": "black"}, "encoding": {"text": {"field": "label"}}}
   ]
  }
]
}
